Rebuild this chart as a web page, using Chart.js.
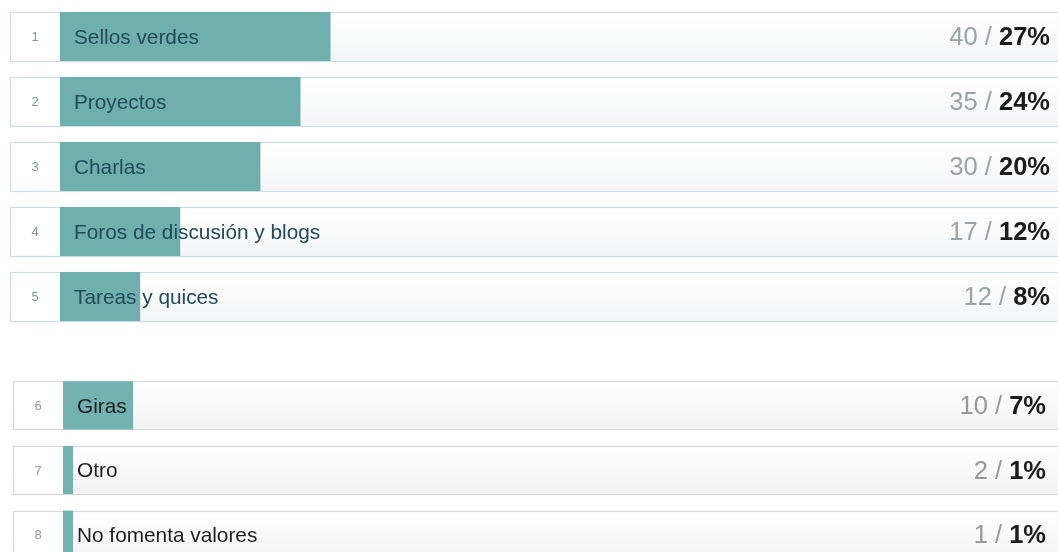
<!DOCTYPE html>
<html><head><meta charset="utf-8">
<script src="https://cdn.jsdelivr.net/npm/chart.js@4"></script>
<style>
html,body{margin:0;padding:0;background:#fff;overflow:hidden;width:1058px;height:552px;}
.c{position:absolute;}
</style></head>
<body>
<div class="c" id="w1" style="left:0;top:4px;width:1062px;height:325px;"><canvas id="c1"></canvas></div>
<div class="c" id="w2" style="left:3px;top:373px;width:1062px;height:194px;"><canvas id="c2"></canvas></div>
<script>
const ranks1 = ["1","2","3","4","5"];
const labels1 = ["Sellos verdes","Proyectos","Charlas","Foros de discusión y blogs","Tareas y quices"];
const counts1 = [40,35,30,17,12];
const pcts1 = [27,24,20,12,8];

const ranks2 = ["6","7","8"];
const labels2 = ["Giras","Otro","No fomenta valores"];
const counts2 = [10,2,1];
const pcts2 = [7,1,1];

const FONT = '"Liberation Sans", Arial, Helvetica, sans-serif';

function makeChart(id, ranks, labels, counts, pcts, opt){
  const rowPlugin = {
    id:'rows',
    beforeDatasetsDraw(chart){
      const ctx = chart.ctx, ys = chart.scales.y, area = chart.chartArea;
      ctx.save();
      labels.forEach((l,i)=>{
        const yc = ys.getPixelForValue(i);
        const top = Math.round(yc - opt.h/2)+0.5, h = opt.h;
        const x0 = 10.5, x1 = chart.width + 5;
        const g = ctx.createLinearGradient(0, top, 0, top+h);
        g.addColorStop(0,'#ffffff'); g.addColorStop(1, opt.bgBottom);
        ctx.fillStyle = g;
        ctx.fillRect(x0, top, x1-x0, h);
        ctx.strokeStyle = opt.border; ctx.lineWidth = 1.2;
        ctx.strokeRect(x0, top, x1-x0, h);
        ctx.fillStyle = '#ffffff';
        ctx.fillRect(x0+1, top+1, area.left - x0 - 1, h-2);
      });
      ctx.restore();
    },
    afterDatasetsDraw(chart){
      const ctx = chart.ctx, ys = chart.scales.y, area = chart.chartArea;
      ctx.save();
      labels.forEach((l,i)=>{
        const yc = ys.getPixelForValue(i);
        ctx.textBaseline = 'middle';
        ctx.textAlign = 'center';
        ctx.font = '13px ' + FONT;
        ctx.fillStyle = opt.rankColor;
        ctx.fillText(ranks[i], area.left - 25, yc+1);
        ctx.textAlign = 'left';
        ctx.font = '20.8px ' + FONT;
        ctx.fillStyle = opt.labelColor;
        ctx.fillText(l, area.left + 14, yc+1.5);
        ctx.font = 'bold 25.5px ' + FONT;
        const pTxt = pcts[i] + '%';
        const pw = ctx.measureText(pTxt).width;
        ctx.textAlign = 'right';
        ctx.fillStyle = '#1c1c1c';
        ctx.fillText(pTxt, opt.rightX, yc+1.5);
        ctx.font = '25.5px ' + FONT;
        ctx.fillStyle = opt.countColor;
        ctx.fillText(counts[i] + ' / ', opt.rightX - pw, yc+1.5);
      });
      ctx.restore();
    }
  };
  return new Chart(document.getElementById(id), {
    type:'bar',
    data:{labels:labels, datasets:[{data:pcts, backgroundColor:opt.bar, borderWidth:0, barPercentage:1, categoryPercentage:opt.h/opt.pitch}]},
    options:{
      indexAxis:'y', responsive:true, maintainAspectRatio:false, animation:false,
      layout:{padding:{left:60,right:0,top:0,bottom:0}},
      scales:{
        x:{display:false, min:0, max:100},
        y:{display:false}
      },
      plugins:{legend:{display:false}, tooltip:{enabled:false}}
    },
    plugins:[rowPlugin]
  });
}
makeChart('c1', ranks1, labels1, counts1, pcts1, {h:49, pitch:65, bar:'#6fb0ae', border:'#cddde6', bgBottom:'#f4f5f6', rankColor:'#7f9aab', labelColor:'#234b5a', countColor:'#9aa3a8', rightX:1050});
makeChart('c2', ranks2, labels2, counts2, pcts2, {h:48, pitch:64.5, bar:'#72b3b1', border:'#d9d9d9', bgBottom:'#f3f3f3', rankColor:'#999999', labelColor:'#1e1e1e', countColor:'#999999', rightX:1043});
</script>
</body></html>
